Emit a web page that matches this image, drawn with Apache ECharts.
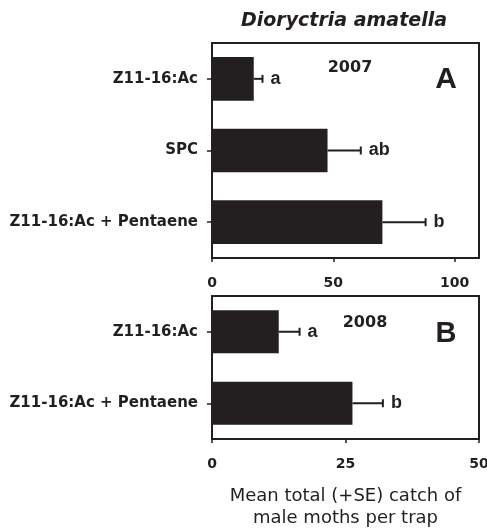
<!DOCTYPE html>
<html>
<head>
<meta charset="utf-8">
<script src="https://cdn.jsdelivr.net/npm/echarts@6/dist/echarts.min.js"></script>
<style>
html,body{margin:0;padding:0;background:#fff;}
#chart{width:487px;height:529px;}
</style>
</head>
<body>
<div id="chart"></div>
<script>
// ---- data ----
const catsA = ['Z11-16:Ac', 'SPC', 'Z11-16:Ac + Pentaene'];
const meansA = [17.2, 47.6, 70.2];
const seA = [3.6, 13.7, 17.8];
const lettersA = ['a', 'ab', 'b'];
const ticksA = [0, 50, 100];

const catsB = ['Z11-16:Ac', 'Z11-16:Ac + Pentaene'];
const meansB = [12.5, 26.3];
const seB = [3.9, 5.7];
const lettersB = ['a', 'b'];
const ticksB = [0, 25, 50];

const title = 'Dioryctria amatella';
const yearA = '2007', yearB = '2008';
const xName = 'Mean total (+SE) catch of\nmale moths per trap';

const INK = '#231f20';
const LABEL_FONT = 'DejaVu Sans';

function errData(means, se) {
  return means.map((m, i) => [i, m, m + se[i]]);
}

function makeErrRender(letters) {
  return function (params, api) {
    const ci = api.value(0);
    const p0 = api.coord([api.value(1), ci]);
    const p1 = api.coord([api.value(2), ci]);
    const cap = 4;
    return {
      type: 'group',
      children: [
        { type: 'line', shape: { x1: p0[0], y1: p0[1], x2: p1[0], y2: p1[1] },
          style: { stroke: INK, lineWidth: 2 } },
        { type: 'line', shape: { x1: p1[0], y1: p1[1] - cap, x2: p1[0], y2: p1[1] + cap },
          style: { stroke: INK, lineWidth: 2 } },
        { type: 'text', x: p1[0] + 8, y: p1[1],
          style: { text: letters[params.dataIndex], fill: INK,
            font: 'bold 18px "Liberation Sans", Arial, sans-serif',
            textAlign: 'left', textVerticalAlign: 'middle' } }
      ]
    };
  };
}

function catAxis(gridIndex, cats) {
  return {
    type: 'category', gridIndex: gridIndex, data: cats, inverse: true,
    axisLine: { lineStyle: { color: INK, width: 2 } },
    axisTick: { show: true, alignWithLabel: true, length: 5, lineStyle: { color: INK, width: 1.5 } },
    axisLabel: { margin: 14, color: INK, fontFamily: LABEL_FONT, fontWeight: 'bold', fontSize: 15 },
    splitLine: { show: false }
  };
}

function valAxis(gridIndex, max, interval, ticks, extra) {
  return Object.assign({
    type: 'value', gridIndex: gridIndex, min: 0, max: max, interval: interval,
    axisLine: { show: true, lineStyle: { color: INK, width: 2 } },
    axisTick: { show: true, length: 4, customValues: ticks, lineStyle: { color: INK, width: 1.5 } },
    axisLabel: { margin: 18, color: INK, fontFamily: LABEL_FONT, fontWeight: 'bold', fontSize: 14,
      customValues: ticks, showMaxLabel: true, showMinLabel: true },
    splitLine: { show: false }
  }, extra || {});
}

const chart = echarts.init(document.getElementById('chart'), null, { renderer: 'canvas' });
chart.setOption({
  animation: false,
  backgroundColor: '#fff',
  grid: [
    { left: 212, top: 43, width: 267, height: 215, show: true, borderColor: INK, borderWidth: 2,
      backgroundColor: 'transparent', containLabel: false, outerBoundsMode: 'none' },
    { left: 212, top: 296, width: 267, height: 143, show: true, borderColor: INK, borderWidth: 2,
      backgroundColor: 'transparent', containLabel: false, outerBoundsMode: 'none' }
  ],
  xAxis: [
    valAxis(0, 110, 50, ticksA),
    valAxis(1, 50, 25, ticksB, {
      name: xName, nameLocation: 'middle', nameGap: 46,
      nameTextStyle: { color: INK, fontFamily: LABEL_FONT, fontSize: 18, lineHeight: 22 }
    })
  ],
  yAxis: [catAxis(0, catsA), catAxis(1, catsB)],
  series: [
    { type: 'bar', xAxisIndex: 0, yAxisIndex: 0, data: meansA, barWidth: '61%',
      itemStyle: { color: INK } },
    { type: 'custom', xAxisIndex: 0, yAxisIndex: 0, data: errData(meansA, seA),
      encode: { x: [1, 2], y: 0 }, renderItem: makeErrRender(lettersA), z: 5, clip: false },
    { type: 'bar', xAxisIndex: 1, yAxisIndex: 1, data: meansB, barWidth: '60%',
      itemStyle: { color: INK } },
    { type: 'custom', xAxisIndex: 1, yAxisIndex: 1, data: errData(meansB, seB),
      encode: { x: [1, 2], y: 0 }, renderItem: makeErrRender(lettersB), z: 5, clip: false }
  ],
  graphic: [
    { type: 'text', x: 344, y: 21, style: { text: title, fill: INK,
      font: 'italic bold 19px "DejaVu Sans", sans-serif', textAlign: 'center', textVerticalAlign: 'middle' } },
    { type: 'text', x: 350, y: 68, style: { text: yearA, fill: INK,
      font: 'bold 16px "DejaVu Sans", sans-serif', textAlign: 'center', textVerticalAlign: 'middle' } },
    { type: 'text', x: 446, y: 80, style: { text: 'A', fill: INK,
      font: 'bold 30px "Liberation Sans", Arial, sans-serif', textAlign: 'center', textVerticalAlign: 'middle' } },
    { type: 'text', x: 365, y: 323, style: { text: yearB, fill: INK,
      font: 'bold 16px "DejaVu Sans", sans-serif', textAlign: 'center', textVerticalAlign: 'middle' } },
    { type: 'text', x: 446, y: 334, style: { text: 'B', fill: INK,
      font: 'bold 29px "Liberation Sans", Arial, sans-serif', textAlign: 'center', textVerticalAlign: 'middle' } }
  ]
});
</script>
</body>
</html>
